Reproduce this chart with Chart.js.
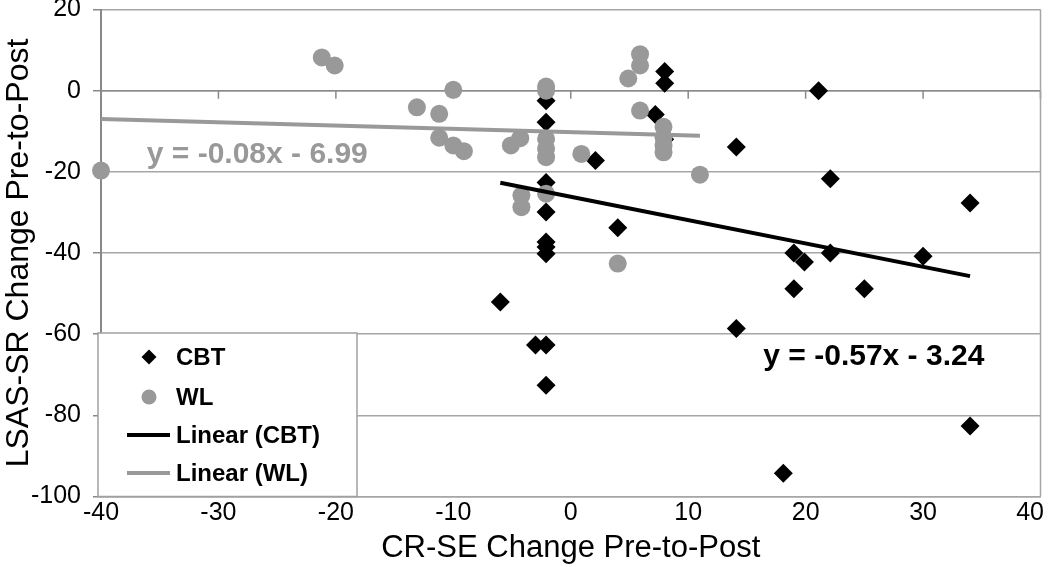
<!DOCTYPE html>
<html>
<head>
<meta charset="utf-8">
<script src="https://cdn.jsdelivr.net/npm/chart.js@4.4.1/dist/chart.umd.min.js"></script>
<style>
    html, body { margin: 0; padding: 0; background: #fff; }
    #chart { display: block; }
</style>
</head>
<body>
<canvas id="chart" width="1050" height="567"></canvas>
<script>
// CBT group - black diamonds
const cbtX = [8.0, 8.0, 21.1, -2.1, 7.2, -2.1, 8.0, 14.1, 2.1, 22.1,
              -2.1, 34.0, -2.1, 4.0, -2.1, -2.1, -2.1, 19.0, 19.9, 22.1,
              30.0, 19.0, 25.0, -6.0, 14.1, -3.0, -2.1, -2.1, 34.0, 18.1];
const cbtY = [4.7, 1.8, 0, -2.5, -5.9, -7.8, -12.0, -13.9, -17.2, -21.7,
              -22.6, -27.7, -29.9, -33.8, -37.3, -38.5, -40.2, -40.0, -42.2, -40.0,
              -40.8, -48.8, -48.8, -52.1, -58.6, -62.7, -62.7, -72.6, -82.6, -94.3];

// WL group - grey circles
const wlX = [-40, -21.2, -20.1, -13.1, -11.2, -10.0, -11.2, -10.0, -9.1, -5.1,
             -4.3, -4.2, -4.2, -2.1, -2.1, -2.1, -2.1, -2.1, -2.1, 0.9,
             4.0, 4.9, 5.9, 5.9, 5.9, 7.9, 7.9, 7.9, 7.9, 11.0];
const wlY = [-19.7, 8.2, 6.2, -4.1, -5.7, 0.2, -11.6, -13.5, -14.9, -13.5,
             -11.7, -25.8, -28.7, 1.0, 0, -11.9, -14.3, -16.4, -25.4, -15.6,
             -42.6, 3.0, 9.0, 6.2, -4.9, -8.9, -11.5, -13.5, -15.2, -20.7];

// trend lines (end points as drawn)
const cbtTrendX = [-6.0, 34.0];
const cbtTrendY = [-22.7, -45.7];
const wlTrendX = [-40, 11.0];
const wlTrendY = [-7.0, -11.1];

const xTicks = [-40, -30, -20, -10, 0, 10, 20, 30, 40];
const yTicks = [-100, -80, -60, -40, -20, 0, 20];

const seriesNames = ['CBT', 'WL', 'Linear (CBT)', 'Linear (WL)'];
const cbtEquation = 'y = -0.57x - 3.24';
const wlEquation = 'y = -0.08x - 6.99';
const cbtEqAt = [16.4, -67.7];
const wlEqAt = [-36.1, -17.9];

const FONT = "'Liberation Sans', Arial, sans-serif";

function toPoints(xs, ys) {
    return xs.map((x, i) => ({ x: x, y: ys[i] }));
}

// horizontal axis crossing at y = 0, plus right border of the plot
const zeroAxis = {
    id: 'zeroAxis',
    beforeDatasetsDraw(chart) {
        const { ctx, chartArea: a, scales: { x, y } } = chart;
        const py = y.getPixelForValue(0);
        ctx.save();
        ctx.strokeStyle = '#8a8a8a';
        ctx.lineWidth = 1.5;
        ctx.beginPath();
        ctx.moveTo(a.left, py);
        ctx.lineTo(a.right, py);
        xTicks.forEach(v => {
            const px = x.getPixelForValue(v);
            ctx.moveTo(px, py);
            ctx.lineTo(px, py + 8);
        });
        ctx.stroke();
        ctx.strokeStyle = '#a6a6a6';
        ctx.lineWidth = 1.5;
        ctx.beginPath();
        ctx.moveTo(a.right, a.top);
        ctx.lineTo(a.right, a.bottom);
        ctx.stroke();
        ctx.restore();
    }
};

// equations and the boxed legend in the lower left corner
const annotations = {
    id: 'annotations',
    afterDatasetsDraw(chart) {
        const { ctx, chartArea: a, scales: { x, y } } = chart;
        const ds = chart.data.datasets;
        ctx.save();
        ctx.font = 'bold 30px ' + FONT;
        ctx.textBaseline = 'alphabetic';
        ctx.textAlign = 'left';
        ctx.fillStyle = ds[1].backgroundColor;
        ctx.fillText(wlEquation, x.getPixelForValue(wlEqAt[0]), y.getPixelForValue(wlEqAt[1]));
        ctx.fillStyle = ds[0].backgroundColor;
        ctx.fillText(cbtEquation, x.getPixelForValue(cbtEqAt[0]), y.getPixelForValue(cbtEqAt[1]));

        // legend box
        const bx = a.left - 3, bw = 259, bh = 163.5, by = a.bottom - bh;
        ctx.fillStyle = '#fff';
        ctx.fillRect(bx, by, bw, bh);
        ctx.strokeStyle = '#a0a0a0';
        ctx.lineWidth = 1.5;
        ctx.strokeRect(bx, by, bw, bh);

        const rows = [by + 24, by + 64, by + 102, by + 140];
        const mx = bx + 51;
        // CBT diamond
        ctx.fillStyle = ds[0].backgroundColor;
        ctx.beginPath();
        ctx.moveTo(mx, rows[0] - 7.5);
        ctx.lineTo(mx + 7.5, rows[0]);
        ctx.lineTo(mx, rows[0] + 7.5);
        ctx.lineTo(mx - 7.5, rows[0]);
        ctx.closePath();
        ctx.fill();
        // WL circle
        ctx.fillStyle = ds[1].backgroundColor;
        ctx.beginPath();
        ctx.arc(mx, rows[1], 7.5, 0, Math.PI * 2);
        ctx.fill();
        // trend line samples
        [2, 3].forEach(i => {
            ctx.strokeStyle = ds[i].borderColor;
            ctx.lineWidth = 4;
            ctx.beginPath();
            ctx.moveTo(bx + 29, rows[i]);
            ctx.lineTo(bx + 72, rows[i]);
            ctx.stroke();
        });
        ctx.fillStyle = '#000';
        ctx.font = 'bold 24px ' + FONT;
        ctx.textBaseline = 'middle';
        seriesNames.forEach((name, i) => {
            ctx.fillText(name, bx + 78, rows[i] + 1);
        });
        ctx.restore();
    }
};

const ctx = document.getElementById('chart').getContext('2d');
const chart = new Chart(ctx, {
    type: 'scatter',
    data: {
        datasets: [{
            label: seriesNames[0],
            data: toPoints(cbtX, cbtY),
            pointStyle: 'rectRot',
            pointRadius: 9.5,
            borderWidth: 0,
            backgroundColor: '#000000',
            borderColor: '#000000',
            clip: false,
            order: 3
        }, {
            label: seriesNames[1],
            data: toPoints(wlX, wlY),
            pointStyle: 'circle',
            pointRadius: 9,
            borderWidth: 0,
            backgroundColor: '#999999',
            borderColor: '#999999',
            clip: false,
            order: 2
        }, {
            label: seriesNames[2],
            data: toPoints(cbtTrendX, cbtTrendY),
            showLine: true,
            pointRadius: 0,
            borderWidth: 4,
            borderColor: '#000000',
            backgroundColor: '#000000',
            order: 0
        }, {
            label: seriesNames[3],
            data: toPoints(wlTrendX, wlTrendY),
            showLine: true,
            pointRadius: 0,
            borderWidth: 4,
            borderColor: '#999999',
            backgroundColor: '#999999',
            order: 1
        }]
    },
    options: {
        responsive: false,
        animation: false,
        layout: { padding: { top: 8.7, right: 5, bottom: 0, left: 0 } },
        plugins: {
            legend: { display: false },
            tooltip: { enabled: false }
        },
        scales: {
            x: {
                type: 'linear',
                min: -40,
                max: 40,
                afterBuildTicks: s => { s.ticks = xTicks.map(v => ({ value: v })); },
                afterFit: s => { s.height = 70.5; s.paddingLeft = 0; s.paddingRight = 0; },
                grid: { display: false, drawTicks: false },
                border: { display: true, color: '#a6a6a6', width: 1.5 },
                ticks: {
                    color: '#000',
                    padding: 2,
                    maxRotation: 0,
                    font: { family: FONT, size: 25 },
                    callback: v => v === 40 ? '40\u00a0\u00a0\u00a0' : String(v)
                },
                title: {
                    display: true,
                    text: 'CR-SE Change Pre-to-Post',
                    color: '#000',
                    padding: 0,
                    font: { family: FONT, size: 31 }
                }
            },
            y: {
                min: -100,
                max: 20,
                afterBuildTicks: s => { s.ticks = yTicks.map(v => ({ value: v })); },
                afterFit: s => { s.width = 101; s.paddingTop = 0; s.paddingBottom = 0; },
                grid: { color: '#a6a6a6', lineWidth: 1.5, tickLength: 8, tickColor: '#888888' },
                border: { display: true, color: '#888888', width: 2 },
                ticks: {
                    color: '#000',
                    padding: 12,
                    font: { family: FONT, size: 25 }
                },
                title: {
                    display: true,
                    text: 'LSAS-SR Change Pre-to-Post',
                    color: '#000',
                    padding: 0,
                    font: { family: FONT, size: 32 }
                }
            }
        }
    },
    plugins: [zeroAxis, annotations]
});
</script>
</body>
</html>
